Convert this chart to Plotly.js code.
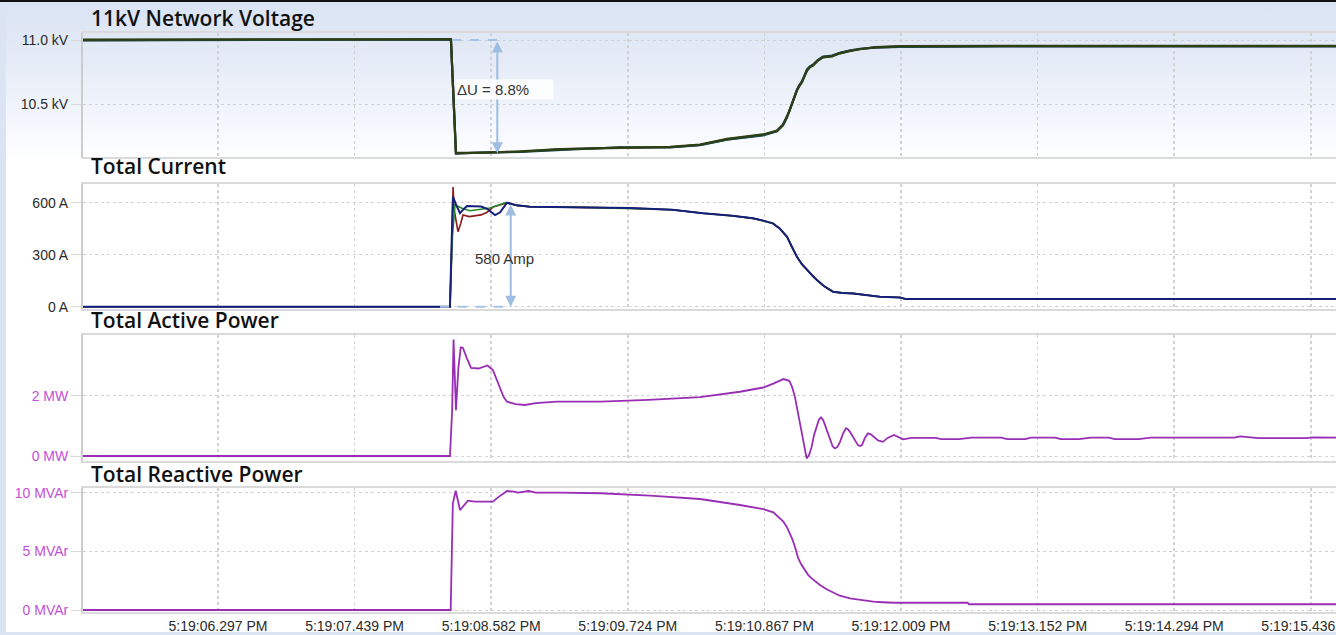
<!DOCTYPE html>
<html>
<head>
<meta charset="utf-8">
<script src="https://cdn.plot.ly/plotly-3.0.1.min.js"></script>
<style>
  html, body { margin: 0; padding: 0; background: #fff; }
  #chart {
    width: 1336px; height: 635px;
    background:
      linear-gradient(#111, #111) 0 0 / 100% 2px no-repeat,
      linear-gradient(#dbe4f3, #dbe4f3) 0 0 / 6px 100% no-repeat,
      linear-gradient(#dbe4f3, #dbe4f3) 0 632px / 100% 3px no-repeat,
      linear-gradient(to bottom, #d9e3f3 0px, #e3eaf6 50px, #f3f6fc 120px, #ffffff 162px) 0 0 / 100% 162px no-repeat,
      #ffffff;
  }
</style>
</head>
<body>
<div id="chart"></div>
<script>
// ---- time axis (seconds after 5:19:06.297 PM) ----
const timeTickVals = [0, 1.142, 2.285, 3.427, 4.570, 5.712, 6.855, 7.997, 9.139];
const timeTickText = ['5:19:06.297 PM', '5:19:07.439 PM', '5:19:08.582 PM', '5:19:09.724 PM',
  '5:19:10.867 PM', '5:19:12.009 PM', '5:19:13.152 PM', '5:19:14.294 PM', '5:19:15.436 PM'];

// ---- panel titles and tick labels ----
const panelTitles = ['11kV Network Voltage', 'Total Current', 'Total Active Power', 'Total Reactive Power'];
const voltTickVals = [10.5, 11.0];
const voltTickText = ['10.5 kV', '11.0 kV'];
const currTickVals = [0, 300, 600];
const currTickText = ['0 A', '300 A', '600 A'];
const pTickVals = [0, 2];
const pTickText = ['0 MW', '2 MW'];
const qTickVals = [0, 5, 10];
const qTickText = ['0 MVAr', '5 MVAr', '10 MVAr'];

// ---- voltage (kV), three phases ----
const voltT = [-1.13, 0.0, 1.5, 1.948, 1.99, 2.191, 2.526, 2.86, 3.362, 3.78, 4.031, 4.257, 4.558, 4.675, 4.725, 4.759, 4.78, 4.8, 4.82, 4.842, 4.863, 4.884, 4.905, 4.926, 4.95, 4.976, 5.015, 5.059, 5.135, 5.202, 5.28, 5.369, 5.5, 5.704, 6.54, 9.35];
const voltA = [11.0, 11.0, 11.005, 11.005, 10.115, 10.12, 10.127, 10.145, 10.16, 10.162, 10.18, 10.224, 10.258, 10.289, 10.336, 10.398, 10.45, 10.505, 10.56, 10.609, 10.645, 10.674, 10.72, 10.766, 10.79, 10.805, 10.84, 10.867, 10.875, 10.898, 10.915, 10.93, 10.942, 10.949, 10.953, 10.953];
const voltB = [11.003, 11.002, 11.006, 11.007, 10.118, 10.118, 10.13, 10.148, 10.158, 10.165, 10.183, 10.228, 10.262, 10.292, 10.34, 10.40, 10.447, 10.50, 10.556, 10.605, 10.642, 10.67, 10.716, 10.76, 10.786, 10.80, 10.837, 10.864, 10.872, 10.896, 10.913, 10.928, 10.944, 10.952, 10.955, 10.955];
const voltC = [10.998, 10.999, 11.003, 11.004, 10.113, 10.121, 10.125, 10.142, 10.162, 10.16, 10.178, 10.222, 10.255, 10.287, 10.333, 10.395, 10.453, 10.51, 10.564, 10.612, 10.648, 10.678, 10.724, 10.77, 10.794, 10.808, 10.843, 10.87, 10.878, 10.9, 10.917, 10.932, 10.94, 10.947, 10.951, 10.951];

// ---- current (A): per-phase inrush, then a common decay ----
const curRedT = [-1.13, 1.94, 1.955, 1.966, 1.975, 2.007, 2.03, 2.049, 2.1, 2.2, 2.25, 2.3, 2.42, 2.5];
const curRed  = [0, 0, 350, 691, 560, 433, 480, 529, 520, 530, 545, 575, 600, 585];
const curGrnT = [-1.13, 1.94, 1.96, 1.982, 2.05, 2.107, 2.275, 2.4, 2.5];
const curGrn  = [0, 0, 400, 587, 565, 554, 570, 600, 585];
const curBluT = [-1.13, 1.94, 1.955, 1.965, 1.99, 2.024, 2.05, 2.082, 2.2, 2.25, 2.317, 2.36, 2.417, 2.5];
const curBlu  = [0, 0, 400, 635, 590, 540, 560, 581, 578, 565, 529, 545, 600, 585];
const curTailT = [2.609, 3.0, 3.446, 3.8, 4.056, 4.3, 4.474, 4.56, 4.641, 4.7, 4.759, 4.8, 4.842, 4.88, 4.926, 4.97, 5.009, 5.07, 5.143, 5.22, 5.31, 5.42, 5.536, 5.704, 5.75, 9.35];
const curTail  = [577, 575, 569, 560, 539, 525, 510, 497, 481, 450, 404, 345, 288, 248, 212, 180, 154, 118, 87, 80, 77, 66, 58, 53, 45, 45];

// ---- active power (MW) ----
const pT = [-1.13, 1.94, 1.958, 1.97, 1.99, 2.01, 2.03, 2.049, 2.08, 2.116, 2.179, 2.254, 2.299, 2.342, 2.388, 2.417, 2.49, 2.567, 2.657, 2.835, 3.2, 3.6, 4.031, 4.365, 4.56, 4.644, 4.728, 4.778, 4.8, 4.825, 4.845, 4.867, 4.895, 4.923, 4.945, 4.965, 4.985, 5.007, 5.025, 5.043, 5.06, 5.076, 5.1, 5.118, 5.14, 5.16, 5.18, 5.202, 5.228, 5.252, 5.27, 5.285, 5.32, 5.352, 5.37, 5.386, 5.41, 5.436, 5.46, 5.478, 5.52, 5.561, 5.6, 5.653, 5.69, 5.729, 5.8, 6.0, 6.05, 6.2, 6.3, 6.55, 6.6, 6.75, 6.8, 7.0, 7.05, 7.2, 7.3, 7.45, 7.5, 7.7, 7.8, 8.5, 8.55, 8.7, 9.1, 9.15, 9.35];
const pMW = [0, 0, 1.5, 3.86, 1.52, 2.9, 3.6, 3.58, 3.25, 2.92, 2.9, 3.0, 2.85, 2.42, 1.96, 1.8, 1.72, 1.69, 1.75, 1.8, 1.8, 1.86, 1.95, 2.13, 2.27, 2.4, 2.55, 2.49, 2.3, 1.96, 1.55, 1.08, 0.4, -0.08, 0.05, 0.31, 0.7, 0.97, 1.2, 1.28, 1.2, 1.03, 0.75, 0.53, 0.32, 0.25, 0.3, 0.47, 0.75, 0.92, 0.88, 0.8, 0.55, 0.36, 0.33, 0.36, 0.6, 0.75, 0.72, 0.66, 0.52, 0.47, 0.6, 0.7, 0.62, 0.55, 0.6, 0.6, 0.56, 0.56, 0.61, 0.61, 0.56, 0.56, 0.61, 0.61, 0.56, 0.56, 0.61, 0.61, 0.56, 0.56, 0.61, 0.61, 0.65, 0.59, 0.59, 0.62, 0.61];

// ---- reactive power (MVAr) ----
const qT = [-1.13, 1.946, 1.964, 1.988, 2.024, 2.09, 2.149, 2.299, 2.342, 2.417, 2.475, 2.509, 2.598, 2.657, 2.86, 3.2, 3.613, 4.031, 4.365, 4.56, 4.644, 4.7, 4.728, 4.756, 4.784, 4.805, 4.825, 4.84, 4.853, 4.88, 4.909, 4.935, 4.965, 5.0, 5.034, 5.09, 5.146, 5.2, 5.285, 5.38, 5.48, 5.56, 5.65, 6.27, 6.28, 9.35];
const qMVAr = [0, 0, 9.1, 10.17, 8.52, 9.32, 9.23, 9.23, 9.6, 10.14, 10.09, 10.0, 10.14, 10.0, 10.0, 9.95, 9.75, 9.46, 8.95, 8.6, 8.33, 7.85, 7.53, 7.1, 6.54, 6.0, 5.4, 4.9, 4.4, 3.85, 3.41, 3.0, 2.7, 2.4, 2.13, 1.77, 1.47, 1.22, 1.0, 0.85, 0.71, 0.66, 0.62, 0.62, 0.49, 0.49];

// ---- annotation values ----
const dropLabel = 'ΔU = 8.8%';
const dropTop = 11.0, dropBottom = 10.115, dropArrowT = 2.336, dropDashT0 = 1.957;
const dropLabelT = 1.982, dropLabelV = 10.617;
const ampLabel = '580 Amp';
const ampTop = 598, ampBottom = 0, ampArrowT = 2.448, ampDashT0 = 1.857;
const ampLabelT = 2.133, ampLabelV = 279;

// ---------------------------------------------------------------
const xRange = [-1.129, 9.35];
const tickFont = {family: 'Liberation Sans, Arial, sans-serif', size: 14, color: '#2a2a2a'};
const magentaFont = {family: 'Liberation Sans, Arial, sans-serif', size: 14, color: '#c44fd6'};
const gridC = '#d2d2d2';
const purple = '#9a2db5';

function line(x, y, color, w, xa, ya) {
  return {type: 'scatter', mode: 'lines', x: x, y: y, xaxis: xa, yaxis: ya,
    line: {color: color, width: w}, hoverinfo: 'skip', showlegend: false};
}

const traces = [
  line(voltT, voltA, '#5b1c43', 2.2, 'x', 'y'),
  line(voltT, voltC, '#1c4a4c', 2.2, 'x', 'y'),
  line(voltT, voltB, '#2d3f14', 2.2, 'x', 'y'),
  line(curRedT.concat(curTailT), curRed.concat(curTail), '#8e1b1b', 1.6, 'x2', 'y2'),
  line(curGrnT.concat(curTailT), curGrn.concat(curTail), '#2a8a2a', 1.6, 'x2', 'y2'),
  line(curBluT.concat(curTailT), curBlu.concat(curTail), '#15207a', 2.0, 'x2', 'y2'),
  line(pT, pMW, purple, 1.8, 'x3', 'y3'),
  line(qT, qMVAr, purple, 1.8, 'x4', 'y4'),
  {type: 'scatter', mode: 'lines', x: [dropDashT0, dropArrowT], y: [dropTop, dropTop], xaxis: 'x', yaxis: 'y',
    line: {color: '#a6c2e4', width: 2, dash: 'dash'}, hoverinfo: 'skip', showlegend: false},
  {type: 'scatter', mode: 'lines', x: [ampDashT0, ampArrowT], y: [ampBottom, ampBottom], xaxis: 'x2', yaxis: 'y2',
    line: {color: '#a6c2e4', width: 2, dash: 'dash'}, hoverinfo: 'skip', showlegend: false}
];

function xAxis(anchor, showLabels) {
  return {
    anchor: anchor, range: xRange, tickmode: 'array', tickvals: timeTickVals, ticktext: timeTickText,
    showticklabels: showLabels, ticks: '', tickfont: tickFont, ticklabeloverflow: 'allow',
    showgrid: true, gridcolor: gridC, griddash: 'dot', gridwidth: 1.5,
    showline: true, mirror: true, linecolor: '#dadada', linewidth: 2, zeroline: false, fixedrange: true
  };
}
function yAxis(anchor, domain, range, vals, text, font) {
  return {
    anchor: anchor, domain: domain, range: range, tickmode: 'array', tickvals: vals, ticktext: text,
    tickfont: font, ticks: 'outside', ticklen: 10, tickcolor: '#d8d8d8', tickwidth: 1,
    showgrid: true, gridcolor: gridC, griddash: 'dot', gridwidth: 1,
    showline: true, linecolor: '#cccccc', linewidth: 2, zeroline: false, fixedrange: true
  };
}

const titleY = [0.9706, 0.7288, 0.4771, 0.2255];
const annotations = panelTitles.map((t, i) => ({
  text: t, xref: 'paper', yref: 'paper', x: 0.0048, y: titleY[i], xanchor: 'left', yanchor: 'middle',
  showarrow: false, font: {family: 'Open Sans, Noto Sans, sans-serif', size: 21, weight: 600, color: '#111'}
}));

annotations.push(
  {xref: 'x', yref: 'y', axref: 'x', ayref: 'y', x: dropArrowT, y: dropBottom, ax: dropArrowT, ay: dropTop,
   text: '', showarrow: true, arrowside: 'end+start', arrowhead: 2, startarrowhead: 2, arrowsize: 1.1, startarrowsize: 1.1,
   arrowwidth: 2, arrowcolor: '#9dbde2'},
  {xref: 'x', yref: 'y', x: dropLabelT, y: dropLabelV, xanchor: 'left', yanchor: 'middle', text: dropLabel, showarrow: false,
   width: 95, align: 'left', bgcolor: 'rgba(255,255,255,0.85)', borderpad: 1,
   font: {family: 'Liberation Sans, Arial, sans-serif', size: 15, color: '#333'}},
  {xref: 'x2', yref: 'y2', axref: 'x2', ayref: 'y2', x: ampArrowT, y: ampBottom, ax: ampArrowT, ay: ampTop,
   text: '', showarrow: true, arrowside: 'end+start', arrowhead: 2, startarrowhead: 2, arrowsize: 1.1, startarrowsize: 1.1,
   arrowwidth: 2, arrowcolor: '#9dbde2'},
  {xref: 'x2', yref: 'y2', x: ampLabelT, y: ampLabelV, xanchor: 'left', yanchor: 'middle', text: ampLabel, showarrow: false,
   font: {family: 'Liberation Sans, Arial, sans-serif', size: 15, color: '#333'}}
);

const layout = {
  width: 1336, height: 635,
  margin: {l: 83, r: 0, t: 0, b: 23, pad: 0},
  paper_bgcolor: 'rgba(0,0,0,0)', plot_bgcolor: 'rgba(0,0,0,0)',
  showlegend: false,
  xaxis: xAxis('y', false),
  xaxis2: xAxis('y2', false),
  xaxis3: xAxis('y3', false),
  xaxis4: xAxis('y4', true),
  yaxis: yAxis('x', [0.7435, 0.9461], [10.086, 11.055], voltTickVals, voltTickText, tickFont),
  yaxis2: yAxis('x2', [0.4951, 0.6993], [-13, 708], currTickVals, currTickText, tickFont),
  yaxis3: yAxis('x3', [0.2472, 0.4526], [-0.156, 4.01], pTickVals, pTickText, magentaFont),
  yaxis4: yAxis('x4', [0.0, 0.2034], [-0.17, 10.44], qTickVals, qTickText, magentaFont),
  annotations: annotations
};

Plotly.newPlot('chart', traces, layout, {displayModeBar: false, staticPlot: true});
</script>
</body>
</html>
